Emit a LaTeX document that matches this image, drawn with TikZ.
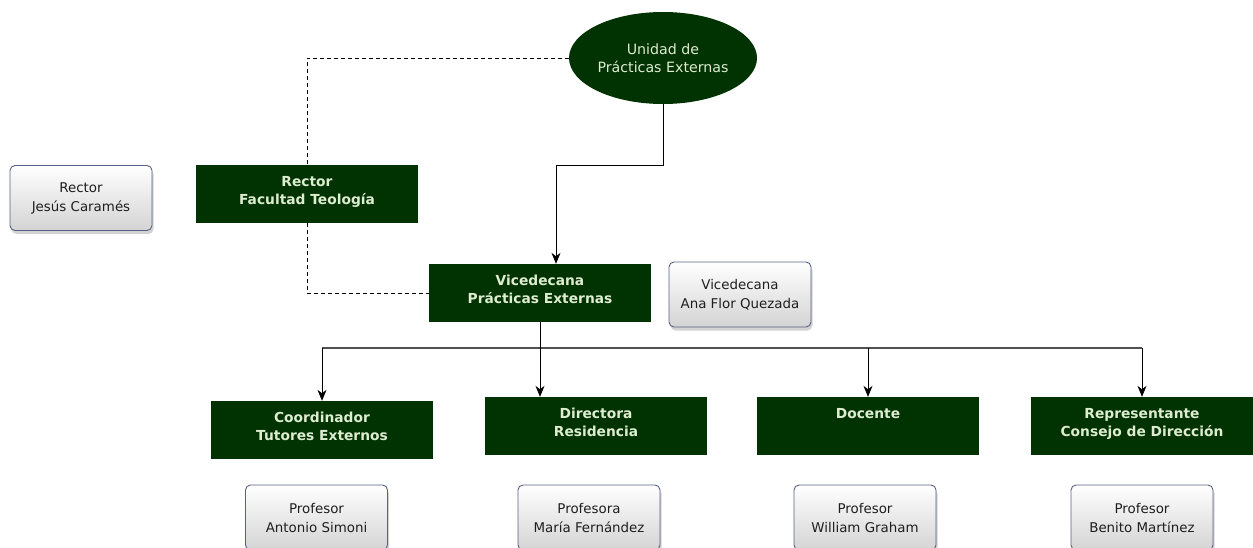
\documentclass[tikz,border=0pt]{standalone}
\usepackage{fontspec}
\setmainfont{DejaVu Sans}
\usetikzlibrary{shapes.geometric,arrows.meta,shadows}
\definecolor{deepgreen}{RGB}{0,50,2}
\definecolor{paletext}{RGB}{222,236,208}
\definecolor{frameblue}{RGB}{88,98,132}
\definecolor{busgray}{RGB}{80,80,80}
\begin{document}
\begin{tikzpicture}[x=1pt,y=-1pt,
  dbox/.style={rectangle, fill=deepgreen, minimum width=222pt, minimum height=58pt, inner sep=0pt},
  dtext/.style={anchor=north, align=center, text=paletext, inner sep=0pt,
    font=\fontsize{13.8}{18}\selectfont\bfseries},
  pbox/.style={rectangle, rounded corners=5pt, draw=frameblue, line width=0.9pt,
    top color=white, bottom color=black!17, minimum width=142pt, minimum height=65pt,
    align=center, text=black!88, font=\fontsize{13.4}{19}\selectfont,
    drop shadow={shadow xshift=1.5pt, shadow yshift=-3.5pt, opacity=0.35}},
  link/.style={draw=black, line width=0.8pt},
  arr/.style={link, -{Stealth[length=11pt, width=9pt, inset=3.5pt]}},
  dashlink/.style={draw=black, line width=0.8pt, dash pattern=on 4pt off 3pt},
  bus/.style={draw=busgray, line width=1.3pt}]
\useasboundingbox (0,0) rectangle (1253,547);

% top unit
\node[ellipse, fill=deepgreen, minimum width=188pt, minimum height=92pt, inner sep=0pt,
      align=center, text=paletext, font=\fontsize{14.2}{18.5}\selectfont] (upe) at (663,58)
      {Unidad de\\Prácticas Externas};

% green role boxes
\node[dbox] (rf) at (307,194) {};
\node[dtext] (rft) at ([yshift=-11pt]rf.north) {Rector\\Facultad Teología};

\node[dbox] (vpe) at (540,293) {};
\node[dtext] (vpet) at ([yshift=-11pt]vpe.north) {Vicedecana\\Prácticas Externas};

\node[dbox] (cte) at (322,430) {};
\node[dtext] (ctet) at ([yshift=-11pt]cte.north) {Coordinador\\Tutores Externos};

\node[dbox] (dres) at (596,426) {};
\node[dtext] (drest) at ([yshift=-11pt]dres.north) {Directora\\Residencia};

\node[dbox] (doc) at (868,426) {};
\node[dtext] (doct) at ([yshift=-11pt]doc.north) {Docente};

\node[dbox] (rcd) at (1142,426) {};
\node[dtext] (rcdt) at ([yshift=-11pt]rcd.north) {Representante\\Consejo de Dirección};

% people
\node[pbox] (p1) at (81,198) {Rector\\Jesús Caramés};
\node[pbox] (p2) at (740,294.5) {Vicedecana\\Ana Flor Quezada};
\node[pbox] (p3) at (316.5,517.5) {Profesor\\Antonio Simoni};
\node[pbox] (p4) at (589,517.5) {Profesora\\María Fernández};
\node[pbox] (p5) at (865,517.5) {Profesor\\William Graham};
\node[pbox] (p6) at (1142,517.5) {Profesor\\Benito Martínez};

% connectors
\coordinate (bend) at (556,165);
\coordinate (busy) at (0,348);

\path[dashlink] (upe.west) -| (rf.north);
\path[dashlink] (rf.south) |- (vpe.west);

\path[link] (upe.south) |- (bend);
\path[arr] (bend) -- (bend |- vpe.north);

\path[bus] (cte.north |- busy) -- (rcd.north |- busy);
\path[arr] (vpe.south) -- (vpe.south |- dres.north);
\path[arr] (cte.north |- busy) -- (cte.north);
\path[arr] (doc.north |- busy) -- (doc.north);
\path[arr] (rcd.north |- busy) -- (rcd.north);
\end{tikzpicture}
\end{document}
